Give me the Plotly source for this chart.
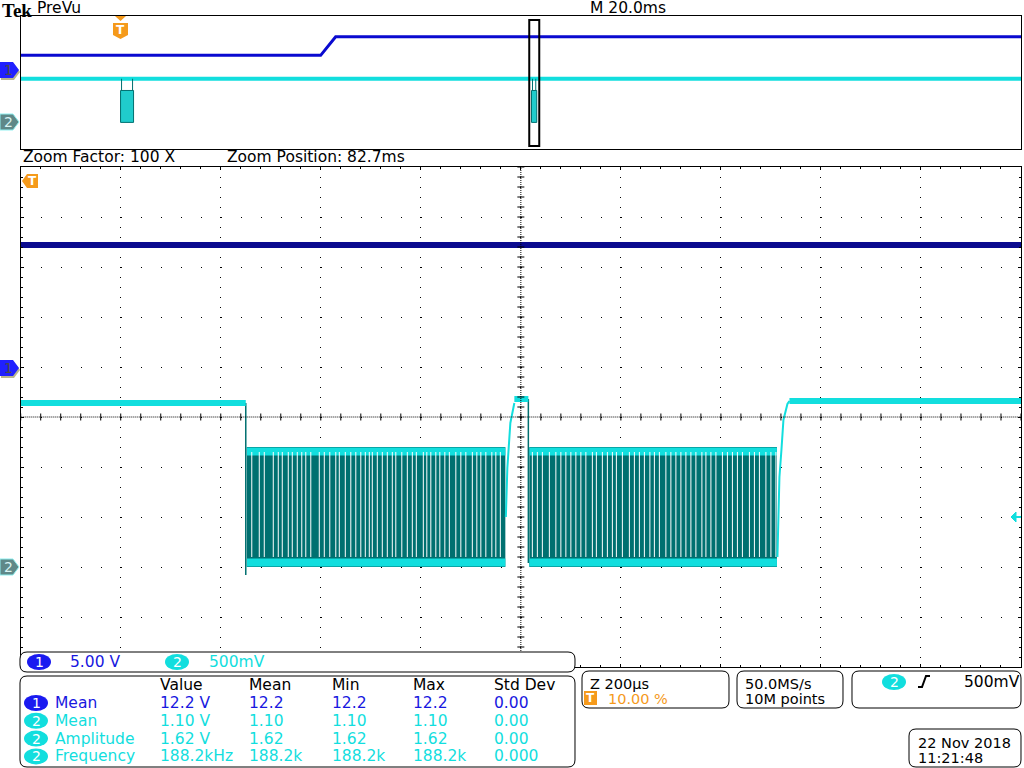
import plotly.graph_objects as go

W, H = 1024, 768
FONT = "DejaVu Sans"

# ---- values ----
# channel settings (V/div, position in divisions)
ch1_scale, ch1_pos = 5.0, 1.0
ch2_scale, ch2_pos = 0.5, -3.0
zoom_pos_ms = 82.7
zoom_half_us = 1000

# zoom window, time in us relative to zoom position
ch1_main_t = [-1000, 1000]
ch1_main_v = [12.2, 12.2]

# flat (thick) parts of channel 2
ch2_level_t = [-1000, -550, None, -13, 15, None, 537, 1000]
ch2_level_v = [1.64, 1.64, None, 1.68, 1.68, None, 1.66, 1.66]
# falling edges
ch2_fall_t = [-550, -550, None, 15, 15]
ch2_fall_v = [1.64, -0.08, None, 1.68, 0.04]
# rising edges
ch2_rise_t = [-30, -27, -21, -13, None, 513, 517, 521, 525, 533, 537]
ch2_rise_v = [0.5, 0.99, 1.44, 1.64, None, 0.1, 0.9, 1.17, 1.47, 1.63, 1.66]

burst_start = [-548, 17]
burst_end = [-31, 512]
burst_low = [0.0, 0.0]
burst_high = [1.2, 1.2]

# white gaps seen inside the two bursts (us)
streaks_1 = [-538, -523, -513, -495, -485, -477, -465, -457, -447, -438, -430, -420,
             -403, -393, -382, -370, -363, -351, -340, -330, -320, -311, -303, -297,
             -287, -277, -267, -257, -250, -238, -227, -217, -209, -195, -188, -180,
             -170, -162, -152, -143, -130, -120, -110, -97, -88, -80, -70, -58, -50, -41]
streaks_2 = [23, 33, 43, 57, 70, 80, 90, 100, 110, 120, 130, 143, 151, 163, 173, 183,
             191, 203, 217, 227, 237, 247, 258, 267, 277, 290, 300, 310, 320, 330, 340,
             350, 362, 370, 380, 390, 403, 413, 423, 433, 443, 457, 467, 477, 490, 500, 510]

# PreVu record, time in ms after trigger
prev_ch1_t = [-20, 40, 43, 180]
prev_ch1_v = [5.2, 5.2, 12.2, 12.2]
prev_ch2_t = [-20, 180]
prev_ch2_v = [1.64, 1.64]
prev_burst_start = [0.0, 82.15]
prev_burst_end = [2.6, 83.2]

# measurement table
meas_cols = ["Value", "Mean", "Min", "Max", "Std Dev"]
meas_rows = [
    ("1", "Mean", ["12.2 V", "12.2", "12.2", "12.2", "0.00"]),
    ("2", "Mean", ["1.10 V", "1.10", "1.10", "1.10", "0.00"]),
    ("2", "Amplitude", ["1.62 V", "1.62", "1.62", "1.62", "0.00"]),
    ("2", "Frequency", ["188.2kHz", "188.2k", "188.2k", "188.2k", "0.000"]),
]

BLUE = "#1818e0"
NAVY = "#0b0b8f"
CYAN = "#12dede"
TEAL = "#007070"
ORANGE = "#f59a1b"


def d1(v):
    return v / ch1_scale + ch1_pos


def d2(v):
    return None if v is None else v / ch2_scale + ch2_pos


def px(x):
    return x / W


def py(y):
    return 1 - y / H


def poly(points):
    s = "M " + " L ".join("%.5f,%.5f" % (px(x), py(y)) for x, y in points)
    return s + " Z"


def rrect(x0, y0, x1, y1, r=7):
    p = lambda x, y: "%.5f,%.5f" % (px(x), py(y))
    return ("M %s L %s Q %s %s L %s Q %s %s L %s Q %s %s L %s Q %s %s Z" %
            (p(x0 + r, y0), p(x1 - r, y0), p(x1, y0), p(x1, y0 + r),
             p(x1, y1 - r), p(x1, y1), p(x1 - r, y1), p(x0 + r, y1),
             p(x0, y1), p(x0, y1 - r), p(x0, y0 + r), p(x0, y0), p(x0 + r, y0)))


fig = go.Figure()

# ---- main zoom window traces ----
fig.add_trace(go.Scatter(x=ch1_main_t, y=[d1(v) for v in ch1_main_v], mode="lines",
                         line=dict(color=NAVY, width=6), xaxis="x", yaxis="y"))
for s, e, lo, hi in zip(burst_start, burst_end, burst_low, burst_high):
    fig.add_trace(go.Scatter(x=[s, e, e, s, s], y=[d2(lo), d2(lo), d2(hi), d2(hi), d2(lo)],
                             mode="lines", fill="toself", fillcolor=TEAL,
                             line=dict(width=0), xaxis="x", yaxis="y"))
    fig.add_trace(go.Scatter(x=[s, e, None, s, e],
                             y=[d2(hi) - 0.09, d2(hi) - 0.09, None, d2(lo) + 0.09, d2(lo) + 0.09],
                             mode="lines", line=dict(color=CYAN, width=8),
                             xaxis="x", yaxis="y"))
sx, sy = [], []
for t in streaks_1 + streaks_2:
    sx += [t, t, None]
    sy += [d2(0.1), d2(1.15), None]
fig.add_trace(go.Scatter(x=sx, y=sy, mode="lines", line=dict(color="white", width=1),
                         xaxis="x", yaxis="y"))
fig.add_trace(go.Scatter(x=ch2_fall_t, y=[d2(v) for v in ch2_fall_v], mode="lines",
                         line=dict(color=TEAL, width=1.5), xaxis="x", yaxis="y"))
fig.add_trace(go.Scatter(x=ch2_rise_t, y=[d2(v) for v in ch2_rise_v], mode="lines",
                         line=dict(color=CYAN, width=2), xaxis="x", yaxis="y"))
fig.add_trace(go.Scatter(x=ch2_level_t, y=[d2(v) for v in ch2_level_v], mode="lines",
                         line=dict(color=CYAN, width=6), xaxis="x", yaxis="y"))

# ---- PreVu traces ----
fig.add_trace(go.Scatter(x=prev_ch1_t, y=[d1(v) for v in prev_ch1_v], mode="lines",
                         line=dict(color="#0a0ad0", width=3), xaxis="x2", yaxis="y2"))
fig.add_trace(go.Scatter(x=prev_ch2_t, y=[d2(v) for v in prev_ch2_v], mode="lines",
                         line=dict(color=CYAN, width=4), xaxis="x2", yaxis="y2"))
for s, e in zip(prev_burst_start, prev_burst_end):
    fig.add_trace(go.Scatter(x=[s, e, e, s, s], y=[d2(0), d2(0), d2(1.2), d2(1.2), d2(0)],
                             mode="lines", fill="toself", fillcolor="#20cccc",
                             line=dict(color=TEAL, width=1), xaxis="x2", yaxis="y2"))
    fig.add_trace(go.Scatter(x=[s + 0.2, s + 0.2, None, e - 0.2, e - 0.2],
                             y=[d2(1.2), d2(1.64), None, d2(1.2), d2(1.64)],
                             mode="lines", line=dict(color=TEAL, width=1),
                             xaxis="x2", yaxis="y2"))

shapes = []
# centre cross of the graticule
shapes.append(dict(type="line", xref="x", yref="y", x0=0, x1=0, y0=-5, y1=5,
                   line=dict(color="black", width=1, dash="1px,1px")))
shapes.append(dict(type="line", xref="x", yref="y", x0=-1000, x1=1000, y0=0, y1=0,
                   line=dict(color="black", width=1, dash="1px,1px")))
tick_path = ""
for t in range(-1000, 1001, 40):
    tick_path += "M %d,-0.07 L %d,0.07 " % (t, t)
for k in range(-25, 26):
    tick_path += "M -7,%.2f L 7,%.2f " % (k * 0.2, k * 0.2)
shapes.append(dict(type="path", xref="x", yref="y", path=tick_path,
                   line=dict(color="black", width=1)))

# zoom window box in PreVu
shapes.append(dict(type="rect", xref="x2", yref="paper",
                   x0=zoom_pos_ms - zoom_half_us / 1000, x1=zoom_pos_ms + zoom_half_us / 1000,
                   y0=py(146), y1=py(20), line=dict(color="black", width=2)))

# channel ground markers on the left
def ch_marker(yc, num):
    pts = [(0, yc - 8), (13, yc - 8), (19, yc), (13, yc + 8), (0, yc + 8)]
    if num == "1":
        shapes.append(dict(type="path", path=poly([(x + 1, y + 2) for x, y in pts]),
                           xref="paper", yref="paper", fillcolor="#b9b68c", line=dict(width=0)))
        shapes.append(dict(type="path", path=poly(pts), xref="paper", yref="paper",
                           fillcolor="#2020ff", line=dict(width=0)))
    else:
        shapes.append(dict(type="path", path=poly(pts), xref="paper", yref="paper",
                           fillcolor="#5f8888", line=dict(color="#8ff0f0", width=1)))


for yc, n in [(70, "1"), (122, "2"), (368, "1"), (567, "2")]:
    ch_marker(yc, n)

# trigger markers
shapes.append(dict(type="path", path=poly([(115, 16), (126, 16), (120.5, 21)]),
                   xref="paper", yref="paper", fillcolor=ORANGE, line=dict(width=0)))
shapes.append(dict(type="path", path=poly([(113, 23), (128, 23), (128, 35), (120.5, 39), (113, 35)]),
                   xref="paper", yref="paper", fillcolor=ORANGE, line=dict(width=0)))
shapes.append(dict(type="path", path=poly([(22, 181), (27, 174), (38, 174), (38, 188), (27, 188)]),
                   xref="paper", yref="paper", fillcolor=ORANGE, line=dict(width=0)))
shapes.append(dict(type="path", path=poly([(1011, 517), (1016, 512), (1016, 522)]),
                   xref="paper", yref="paper", fillcolor=CYAN, line=dict(color=CYAN, width=1)))
shapes.append(dict(type="line", xref="paper", yref="paper", x0=px(1014), x1=px(1021),
                   y0=py(517), y1=py(517), line=dict(color=CYAN, width=2)))

# readout boxes
for box in [(20, 652, 575, 672), (20, 676, 575, 767), (582, 671, 729, 708),
            (737, 671, 843, 708), (852, 671, 1021, 708), (909, 729, 1021, 767)]:
    shapes.append(dict(type="path", path=rrect(*box), xref="paper", yref="paper",
                       fillcolor="white", line=dict(color="black", width=1), layer="above"))
shapes.append(dict(type="rect", xref="paper", yref="paper", x0=px(576), x1=px(1023),
                   y0=py(668), y1=py(708), fillcolor="white", line=dict(width=0), layer="below"))

annotations = []


def txt(x, y, s, color="black", size=15.5, family=FONT, anchor="left"):
    annotations.append(dict(x=px(x), y=py(y), xref="paper", yref="paper", text=s,
                            showarrow=False, xanchor=anchor, yanchor="middle",
                            font=dict(family=family, size=size, color=color)))


def badge(xc, yc, num, color):
    shapes.append(dict(type="circle", xref="paper", yref="paper", x0=px(xc - 12), x1=px(xc + 12),
                       y0=py(yc + 8), y1=py(yc - 8), fillcolor=color, line=dict(width=0),
                       layer="above"))
    txt(xc, yc, num, color="white", size=14, anchor="center")


for yc, n in [(70, "1"), (122, "2"), (368, "1"), (567, "2")]:
    txt(8, yc, n, color="#4a4a4a" if n == "1" else "#d8f4f4", size=14, anchor="center")
txt(120.5, 30, "<b>T</b>", color="white", size=12, anchor="center")
txt(32, 181, "<b>T</b>", color="white", size=12, anchor="center")

txt(0, 10, "<b>Tek</b>", size=19, family="Liberation Serif")
txt(35, 8, "PreVu")
txt(588, 8, "M 20.0ms")
txt(21, 157, "Zoom Factor: 100 X")
txt(225, 157, "Zoom Position: %.1fms" % zoom_pos_ms)

badge(39, 662, "1", "#1a1af0")
txt(68, 662, "5.00 V", color=BLUE)
badge(177, 662, "2", CYAN)
txt(207, 662, "500mV", color=CYAN)

col_x = [158, 247, 330, 411, 492]
for cx, c in zip(col_x, meas_cols):
    txt(cx, 685, c)
for i, (ch, name, vals) in enumerate(meas_rows):
    yc = 703 + i * 17.8
    col = BLUE if ch == "1" else CYAN
    badge(36, yc, ch, "#1a1af0" if ch == "1" else CYAN)
    txt(53, yc, name, color=col)
    for cx, v in zip(col_x, vals):
        txt(cx, yc, v, color=col)

txt(588, 683.5, "Z 200µs", size=14.5)
shapes.append(dict(type="rect", xref="paper", yref="paper", x0=px(584), x1=px(597),
                   y0=py(705), y1=py(691), fillcolor=ORANGE, line=dict(width=0), layer="above"))
txt(590.5, 698, "<b>T</b>", color="white", size=12, anchor="center")
txt(606, 698.5, "10.00 %", color=ORANGE, size=14.5)
txt(743, 683.5, "50.0MS/s", size=14.5)
txt(743, 698.5, "10M points", size=14.5)
badge(894, 682, "2", CYAN)
shapes.append(dict(type="path", xref="paper", yref="paper", layer="above",
                   path="M %.5f,%.5f L %.5f,%.5f L %.5f,%.5f L %.5f,%.5f" %
                   (px(918), py(687), px(922), py(687), px(926), py(676), px(930), py(676)),
                   line=dict(color="black", width=2)))
txt(962, 682, "500mV")
txt(916, 742.5, "22 Nov 2018", size=14.5)
txt(916, 757.5, "11:21:48", size=14.5)

fig.update_layout(
    width=W, height=H,
    margin=dict(l=0, r=0, t=0, b=0, pad=0),
    paper_bgcolor="white", plot_bgcolor="white",
    showlegend=False,
    xaxis=dict(domain=[px(20.7), px(1021)], range=[-zoom_half_us, zoom_half_us],
               dtick=200, tick0=0, showticklabels=False, zeroline=False,
               showgrid=True, gridcolor="black", gridwidth=1, griddash="1px,9px",
               showline=True, linecolor="black", linewidth=1, mirror="allticks",
               ticks="inside", ticklen=3, tickcolor="black",
               minor=dict(dtick=40, ticks="inside", ticklen=2, tickcolor="black"),
               anchor="y"),
    yaxis=dict(domain=[py(667), py(167)], range=[-5, 5], dtick=1, tick0=0,
               showticklabels=False, zeroline=False,
               showgrid=True, gridcolor="black", gridwidth=1, griddash="1px,19px",
               showline=True, linecolor="black", linewidth=1, mirror="allticks",
               ticks="inside", ticklen=3, tickcolor="black",
               minor=dict(dtick=0.2, ticks="inside", ticklen=2, tickcolor="black"),
               anchor="x"),
    xaxis2=dict(domain=[px(20.5), px(1021)], range=[-20, 180], showticklabels=False,
                showgrid=False, zeroline=False, ticks="", showline=True,
                linecolor="black", linewidth=1, mirror=True, anchor="y2"),
    yaxis2=dict(domain=[py(149), py(16)], range=[-5, 5], showticklabels=False,
                showgrid=False, zeroline=False, ticks="", showline=True,
                linecolor="black", linewidth=1, mirror=True, anchor="x2"),
    shapes=shapes,
    annotations=annotations,
)

# the page's default body margin would push the 1024x768 screen off the window
fig.write_html("out.html", config={"displayModeBar": False},
               post_script="document.body.style.margin='0';")
